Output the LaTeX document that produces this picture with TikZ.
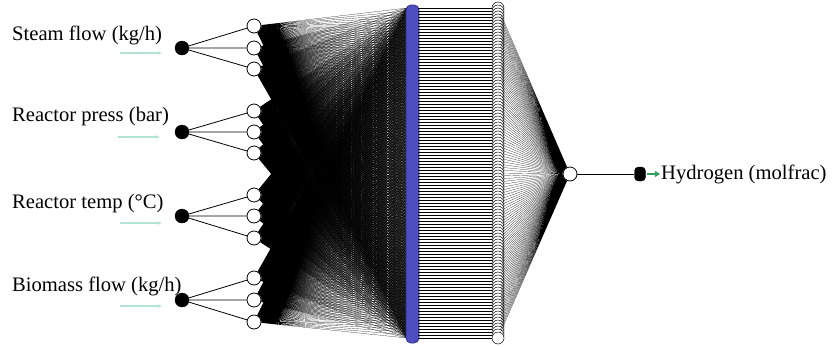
\documentclass[tikz,border=0pt]{standalone}
\usepackage{fontspec}
\setmainfont{Liberation Serif}
\usepackage{xcolor}
\usepackage{tikz}
\usetikzlibrary{arrows.meta,positioning}
\definecolor{barblue}{RGB}{78,78,192}
\definecolor{barline}{RGB}{44,44,140}
\definecolor{hintcyan}{RGB}{180,228,216}
\definecolor{outgreen}{RGB}{46,160,92}

\begin{document}
\begin{tikzpicture}[x=1pt, y=-1pt, every node/.style={font=\fontsize{20.6}{24}\selectfont}, inp/.style={circle, fill=black, draw=black, inner sep=0pt, minimum size=14pt}, lay/.style={circle, fill=white, draw=black, line width=0.8pt, inner sep=0pt, minimum size=14pt}, hid/.style={circle, fill=white, draw=black, line width=0.5pt, inner sep=0pt, minimum size=12pt}, bar/.style={draw=barline, fill=barblue, rounded corners=5pt, line width=0.8pt, minimum width=13pt, minimum height=338pt, inner sep=0pt}, lbl/.style={anchor=west, inner sep=0pt}, net/.style={line width=0.18pt}, flat/.style={line width=0.5pt}, hint/.style={-{Latex[length=4pt,width=4pt]}, draw=hintcyan, line width=1.2pt}]
\useasboundingbox (0,0) rectangle (832,346);
% inputs
\node[inp] (x1) at (182,48) {};
\node[inp] (x2) at (182,132) {};
\node[inp] (x3) at (182,216) {};
\node[inp] (x4) at (182,300) {};
\node[lbl] (t1) at (12,35) {Steam flow (kg/h)};
\node[lbl] (t2) at (12,117) {Reactor press (bar)};
\node[lbl] (t3) at (12,204) {Reactor temp (°C)};
\node[lbl] (t4) at (12,286) {Biomass flow (kg/h)};
\coordinate (a1) at (120,53); \coordinate (b1) at (162,53);
\coordinate (a2) at (118,137); \coordinate (b2) at (160,137);
\coordinate (a3) at (120,223); \coordinate (b3) at (162,223);
\coordinate (a4) at (120,306); \coordinate (b4) at (162,306);
\foreach \k in {1,...,4} \draw[hint] (a\k) -- (b\k);
% first layer, three per input
\foreach \k/\ya/\yb/\yc in {1/26/48/69, 2/111/132/153, 3/195/216/238, 4/278/300/322}{
  \node[lay] (s\k a) at (254,\ya) {};
  \node[lay] (s\k b) at (254,\yb) {};
  \node[lay] (s\k c) at (254,\yc) {};
  \draw[line width=0.8pt] (x\k) -- (s\k a) (x\k) -- (s\k b) (x\k) -- (s\k c);
}
% hidden layer
\foreach \i in {0,...,110}{
  \coordinate (bl\i) at (407,8+3*\i);
  \coordinate (br\i) at (418,8+3*\i);
}
\foreach \k in {1,...,4}
  \foreach \m in {a,b,c}
    \draw[net] \foreach \i in {0,...,110}{(s\k\m) -- (bl\i)};
\node[bar] (bar) at (412.5,174) {};
\node[lay] (out) at (570,174) {};
\foreach \i in {0,...,110}{
  \node[hid] (h\i) at (498,8+3*\i) {};
  \draw[flat] (br\i) -- (h\i);
}
\draw[net] \foreach \i in {0,...,110}{(h\i) -- (out)};
% output
\node[draw=black, fill=black, rounded corners=4pt, minimum width=11pt, minimum height=14pt, inner sep=0pt] (y) at (640,174) {};
\draw[line width=0.8pt] (out) -- (y);
\coordinate (g1) at (647,174); \coordinate (g2) at (660,174);
\draw[-{Triangle[length=5pt,width=6pt]}, outgreen, line width=2pt] (g1) -- (g2);
\node[lbl] (ty) at (661,174) {Hydrogen (molfrac)};
\end{tikzpicture}
\end{document}
